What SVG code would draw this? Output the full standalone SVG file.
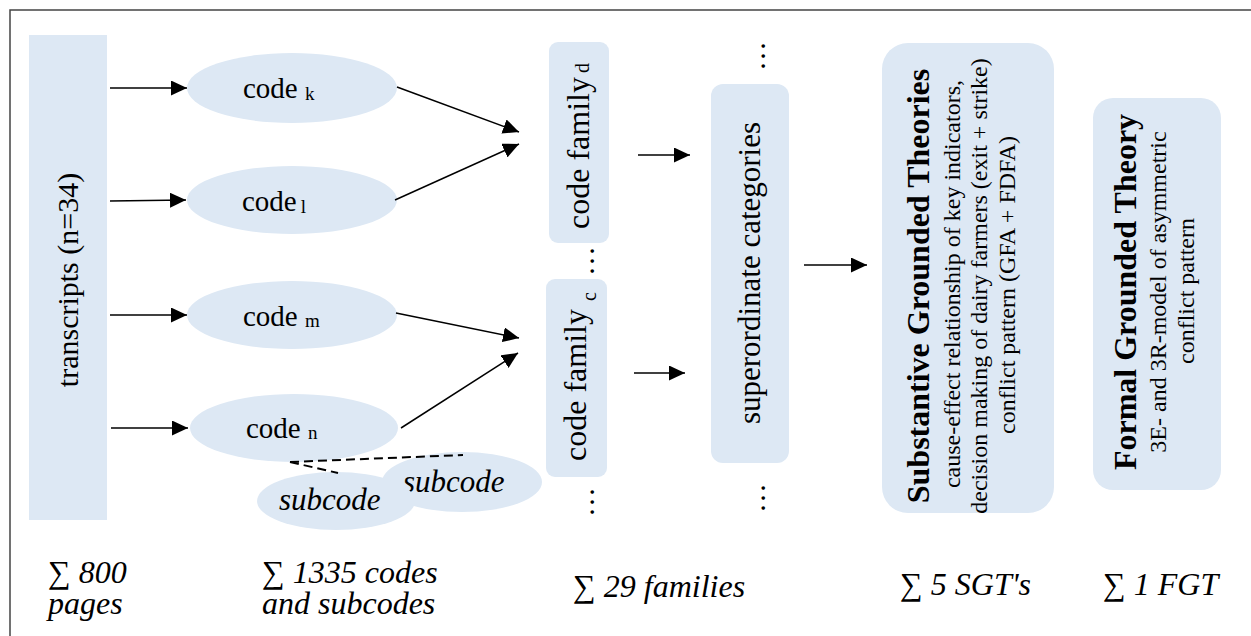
<svg xmlns="http://www.w3.org/2000/svg" width="1251" height="636" viewBox="0 0 1251 636">
<defs>
<marker id="ahb" viewBox="0 0 10 10" refX="10" refY="5" markerWidth="16" markerHeight="15" markerUnits="userSpaceOnUse" orient="auto" preserveAspectRatio="none">
<path d="M0,0 L10,5 L0,10 Z" fill="#000"/>
</marker>
</defs>
<rect width="1251" height="636" fill="#fff"/>
<path d="M10,636 V10 H1251" stroke="#444" stroke-width="1.5" fill="none"/>
<g fill="#dde8f4">
<g id="transcripts">
<rect x="29" y="35" width="78" height="485"/>
<text font-family="Liberation Serif, serif" fill="#000" font-size="30" text-anchor="middle" transform="translate(78,280) rotate(-90)">transcripts (n=34)</text>
</g>
<g id="code-k">
<ellipse cx="292" cy="88" rx="105" ry="35"/>
<text font-family="Liberation Serif, serif" fill="#000" font-size="29" x="243" y="98">code <tspan font-size="19" dy="2">k</tspan></text>
</g>
<g id="code-l">
<ellipse cx="292" cy="200" rx="105" ry="34"/>
<text font-family="Liberation Serif, serif" fill="#000" font-size="29" x="242" y="211">code<tspan font-size="19" dx="4" dy="2">l</tspan></text>
</g>
<g id="code-m">
<ellipse cx="292" cy="315" rx="105" ry="34"/>
<text font-family="Liberation Serif, serif" fill="#000" font-size="29" x="243" y="326">code <tspan font-size="19" dy="1">m</tspan></text>
</g>
<g id="code-n">
<ellipse cx="294" cy="428" rx="104" ry="34"/>
<text font-family="Liberation Serif, serif" fill="#000" font-size="29" x="246" y="438">code <tspan font-size="19" dy="1">n</tspan></text>
</g>
<g id="subcode-2">
<ellipse cx="462" cy="482" rx="80" ry="30"/>
<text font-family="Liberation Serif, serif" fill="#000" font-size="31" font-style="italic" x="403" y="492">subcode</text>
</g>
<g id="subcode-1">
<ellipse cx="336" cy="501" rx="79" ry="29"/>
<text font-family="Liberation Serif, serif" fill="#000" font-size="31" font-style="italic" x="279" y="510">subcode</text>
</g>
<g id="code-family-d">
<rect x="549" y="42" width="60" height="201" rx="9"/>
<text font-family="Liberation Serif, serif" fill="#000" font-size="32" transform="translate(589,229) rotate(-90)">code family<tspan font-size="20" dx="4" dy="0">d</tspan></text>
</g>
<g id="code-family-c">
<rect x="546" y="279" width="61" height="198" rx="9"/>
<text font-family="Liberation Serif, serif" fill="#000" font-size="32" transform="translate(586,461) rotate(-90)">code family <tspan font-size="20" dy="10">c</tspan></text>
</g>
<g id="superordinate">
<rect x="711" y="84" width="78" height="379" rx="12"/>
<text font-family="Liberation Serif, serif" fill="#000" font-size="31" text-anchor="middle" transform="translate(760,273) rotate(-90)">superordinate categories</text>
</g>
<g id="sgt">
<rect x="882" y="43" width="172" height="470" rx="26"/>
<text font-family="Liberation Serif, serif" fill="#000" font-size="32" font-weight="bold" text-anchor="middle" transform="translate(929,286) rotate(-90)">Substantive Grounded Theories</text>
<text font-family="Liberation Serif, serif" fill="#000" font-size="24" text-anchor="middle" transform="translate(960,284) rotate(-90)">cause-effect relationship of key indicators,</text>
<text font-family="Liberation Serif, serif" fill="#000" font-size="24" text-anchor="middle" transform="translate(987,286) rotate(-90)">decision making of dairy farmers (exit + strike)</text>
<text font-family="Liberation Serif, serif" fill="#000" font-size="24" text-anchor="middle" transform="translate(1015,285) rotate(-90)">conflict pattern (GFA + FDFA)</text>
</g>
<g id="fgt">
<rect x="1093" y="98" width="128" height="392" rx="20"/>
<text font-family="Liberation Serif, serif" fill="#000" font-size="32" font-weight="bold" text-anchor="middle" transform="translate(1136,292) rotate(-90)">Formal Grounded Theory</text>
<text font-family="Liberation Serif, serif" fill="#000" font-size="24" text-anchor="middle" transform="translate(1166,292) rotate(-90)">3E- and 3R-model of asymmetric</text>
<text font-family="Liberation Serif, serif" fill="#000" font-size="24" text-anchor="middle" transform="translate(1194,291) rotate(-90)">conflict pattern</text>
</g>
</g>
<g id="dots" font-family="Liberation Serif, serif" fill="#000" font-size="30" text-anchor="middle">
<text transform="translate(594,261) rotate(-90)">…</text>
<text transform="translate(594,502) rotate(-90)">…</text>
<text transform="translate(765,56) rotate(-90)">…</text>
<text transform="translate(765,498) rotate(-90)">…</text>
</g>
<g id="totals" font-family="Liberation Serif, serif" fill="#000" font-size="32" font-style="italic">
<text x="48" y="583">∑ 800<tspan x="48" dy="31">pages</tspan></text>
<text x="262" y="583">∑ 1335 codes<tspan x="262" dy="31">and subcodes</tspan></text>
<text x="573" y="597">∑ 29 families</text>
<text x="900" y="595">∑ 5 SGT's</text>
<text x="1103" y="595">∑ 1 FGT</text>
</g>
<g id="connectors" stroke="#000" stroke-width="1.5" fill="none">
<line x1="110" y1="88" x2="187" y2="88" marker-end="url(#ahb)"/>
<line x1="110" y1="201" x2="186" y2="200" marker-end="url(#ahb)"/>
<line x1="110" y1="315" x2="187" y2="315" marker-end="url(#ahb)"/>
<line x1="111" y1="428" x2="188" y2="428" marker-end="url(#ahb)"/>
<line x1="397" y1="87" x2="519" y2="132" marker-end="url(#ahb)"/>
<line x1="395" y1="200" x2="519" y2="144" marker-end="url(#ahb)"/>
<line x1="396" y1="313" x2="519" y2="338" marker-end="url(#ahb)"/>
<line x1="401" y1="428" x2="518" y2="353" marker-end="url(#ahb)"/>
<line x1="638" y1="155" x2="690" y2="155" marker-end="url(#ahb)"/>
<line x1="634" y1="373" x2="685" y2="373" marker-end="url(#ahb)"/>
<line x1="804" y1="265" x2="867" y2="265" marker-end="url(#ahb)"/>
<line x1="290" y1="462" x2="463" y2="455" stroke-width="2" stroke-dasharray="9,5"/>
<line x1="290" y1="462" x2="338" y2="473" stroke-width="2" stroke-dasharray="9,5"/>
</g>
</svg>
